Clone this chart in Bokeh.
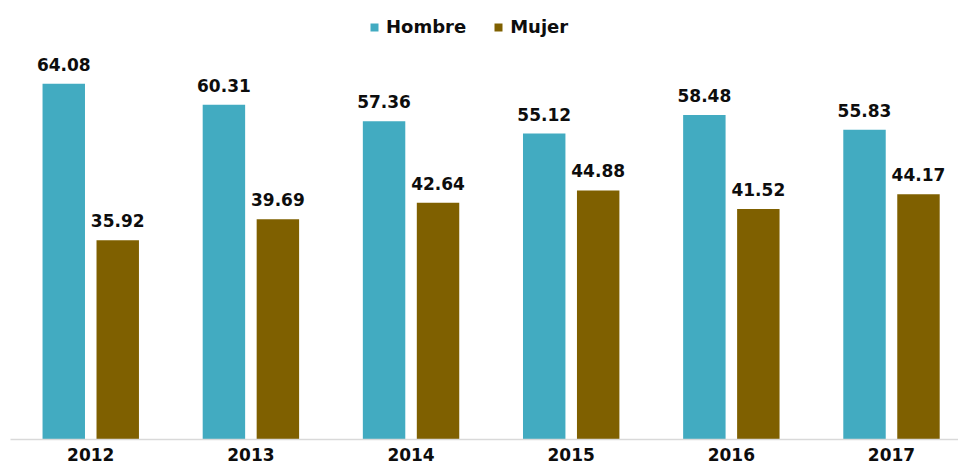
from bokeh.plotting import figure
from bokeh.models import ColumnDataSource, FixedTicker, Range1d, Legend, LegendItem
from bokeh.core.properties import value
from bokeh.embed import file_html
from bokeh.resources import INLINE

years = ["2012", "2013", "2014", "2015", "2016", "2017"]
hombre = [64.08, 60.31, 57.36, 55.12, 58.48, 55.83]
mujer = [35.92, 39.69, 42.64, 44.88, 41.52, 44.17]

C_H = "#42ABC1"
C_M = "#7F6000"
FONT = "DejaVu Sans"

idx = list(range(len(years)))
off = 0.1685
bw = 0.265

src_h = ColumnDataSource(dict(x=[i - off for i in idx], y=hombre, t=[f"{v:.2f}" for v in hombre]))
src_m = ColumnDataSource(dict(x=[i + off for i in idx], y=mujer, t=[f"{v:.2f}" for v in mujer]))

p = figure(width=958, height=468, output_backend="svg", toolbar_location=None,
           x_range=Range1d(-0.5011, 5.4184), y_range=Range1d(0, 79.1),
           y_axis_location=None, min_border_left=10, min_border_right=0,
           min_border_top=0, min_border_bottom=29)
p.outline_line_color = None
p.xgrid.grid_line_color = None
p.ygrid.grid_line_color = None
p.background_fill_color = "white"
p.border_fill_color = "white"

rh = p.vbar(x="x", top="y", width=bw, source=src_h, fill_color=C_H, line_color=None)
rm = p.vbar(x="x", top="y", width=bw, source=src_m, fill_color=C_M, line_color=None)

for s in (src_h, src_m):
    p.text(x="x", y="y", text="t", source=s, text_align="center", text_baseline="bottom",
           y_offset=-13, text_font=value(FONT), text_font_style="bold",
           text_font_size="17px", text_color="#0D0D0D")

ax = p.xaxis[0]
ax.ticker = FixedTicker(ticks=idx)
ax.major_label_overrides = {i: y for i, y in zip(idx, years)}
ax.axis_line_color = "#D9D9D9"
ax.axis_line_width = 1.5
ax.major_tick_line_color = None
ax.minor_tick_line_color = None
ax.major_tick_out = 0
ax.major_label_standoff = 8
ax.major_label_text_font = FONT
ax.major_label_text_font_style = "bold"
ax.major_label_text_font_size = "17px"
ax.major_label_text_color = "#0D0D0D"

legend = Legend(items=[LegendItem(label="Hombre", renderers=[rh]),
                       LegendItem(label="Mujer", renderers=[rm])],
                orientation="horizontal", location=(359, 402),
                padding=0, margin=0, spacing=27, border_line_color=None,
                background_fill_alpha=0, glyph_width=10, glyph_height=10,
                label_standoff=7, label_height=20,
                label_text_font=FONT, label_text_font_style="bold",
                label_text_font_size="18px", label_text_color="#0D0D0D")
p.add_layout(legend, "center")

open("out.html", "w").write(file_html(p, INLINE))
